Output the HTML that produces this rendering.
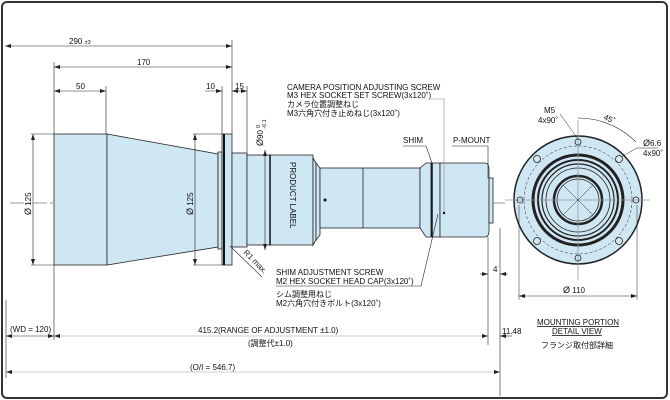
<!DOCTYPE html>
<html><head><meta charset="utf-8"><style>
html,body{margin:0;padding:0;background:#fff}
svg{display:block}
text{font-family:"Liberation Sans","Noto Sans CJK JP",sans-serif;font-size:8px;fill:#111}
</style></head><body>
<svg width="670" height="400" viewBox="0 0 670 400" xmlns="http://www.w3.org/2000/svg">
<defs>
<marker id="a" markerWidth="6" markerHeight="4" refX="6" refY="2" orient="auto-start-reverse" markerUnits="userSpaceOnUse"><path d="M0,0L6,2L0,4z" fill="#222"/></marker>
</defs>
<rect x="2" y="2" width="665" height="396" rx="5" fill="#fff" stroke="#333" stroke-width="2"/>
<line x1="10" y1="203" x2="505" y2="203" stroke="#999" stroke-width="1" stroke-dasharray="14,3,3,3"/>
<g fill="#cfe6f3" stroke="#222" stroke-width="0.8">
<rect x="54" y="134" width="53" height="131"/>
<path d="M107,134 L218,154 L218,247 L107,265 Z"/>
<rect x="218" y="152" width="4" height="97"/>
<rect x="222" y="134" width="10" height="131"/>
<rect x="232" y="153" width="15" height="94"/>
<rect x="247" y="155" width="23" height="90"/>
<rect x="270" y="155" width="43" height="90"/>
<path d="M313,158 L316,163 L316,240 L313,245 Z"/>
<path d="M316,163 L320,168 L320,235 L316,240 Z"/>
<rect x="320" y="168" width="100" height="60"/>
<path d="M420,168 L426,163 L431,163 L431,237 L426,237 L420,228 Z"/>
<rect x="431" y="163" width="9" height="74"/>
<path d="M440,163 L485,163 Q489,163 489,170 L489,230 Q489,237 485,237 L440,237 Z"/>
<rect x="489" y="178" width="4" height="45"/>
</g>
<line x1="224" y1="134" x2="224" y2="265" stroke="#111" stroke-width="2"/>
<line x1="270" y1="155" x2="270" y2="245" stroke="#111" stroke-width="1.5"/>
<line x1="363" y1="168" x2="363" y2="228" stroke="#222" stroke-width="0.8"/>
<line x1="432" y1="163" x2="432" y2="237" stroke="#111" stroke-width="1.5"/>
<circle cx="325" cy="200" r="1.5" fill="#111"/>
<circle cx="444" cy="213" r="1.2" fill="#111"/>
<text x="290" y="162" transform="rotate(90 290 162)" font-size="8.5">PRODUCT LABEL</text>
<g stroke="#222" stroke-width="0.6" fill="none">
<line x1="5" y1="46" x2="232" y2="46" marker-start="url(#a)" marker-end="url(#a)"/>
<line x1="54" y1="67" x2="232" y2="67" marker-start="url(#a)" marker-end="url(#a)"/>
<line x1="54" y1="91" x2="106" y2="91" marker-start="url(#a)" marker-end="url(#a)"/>
<line x1="205" y1="91" x2="222" y2="91" marker-end="url(#a)"/>
<line x1="232" y1="91" x2="247" y2="91" marker-start="url(#a)" marker-end="url(#a)"/>
<line x1="232" y1="40" x2="232" y2="134"/><line x1="54" y1="62" x2="54" y2="134"/>
<line x1="106" y1="86" x2="106" y2="134"/><line x1="222" y1="86" x2="222" y2="134"/>
<line x1="247" y1="86" x2="247" y2="153"/>
<line x1="33" y1="134" x2="33" y2="265" marker-start="url(#a)" marker-end="url(#a)"/>
<line x1="195" y1="134" x2="195" y2="265" marker-start="url(#a)" marker-end="url(#a)"/>
<line x1="193" y1="134" x2="222" y2="134"/><line x1="193" y1="265" x2="222" y2="265"/>
<line x1="31" y1="134" x2="54" y2="134"/><line x1="31" y1="265" x2="54" y2="265"/>
<line x1="265" y1="150" x2="265" y2="250" marker-start="url(#a)" marker-end="url(#a)"/>
<line x1="230" y1="246" x2="262" y2="277"/>
<path d="M276,286 L421,286 L438,214"/>
<path d="M430,99 L444,99 L444,212" stroke="#888"/>
<path d="M403,146 L426,146 L432,163"/>
<path d="M452,146 L488,146 L488,178"/>
<line x1="488" y1="237" x2="488" y2="345"/>
<line x1="500" y1="228" x2="500" y2="396"/>
<line x1="480" y1="274" x2="488" y2="274" marker-end="url(#a)"/>
<line x1="508" y1="274" x2="500" y2="274" marker-end="url(#a)"/>
<line x1="54" y1="265" x2="54" y2="340"/>
<line x1="6" y1="300" x2="6" y2="378"/>
<line x1="6" y1="336" x2="54" y2="336" marker-start="url(#a)" marker-end="url(#a)"/>
<line x1="54" y1="336" x2="488" y2="336" stroke="#999" marker-start="url(#a)" marker-end="url(#a)"/>
<line x1="512" y1="336" x2="500" y2="336" marker-end="url(#a)"/>
<line x1="6" y1="372" x2="500" y2="372" stroke="#999" marker-start="url(#a)" marker-end="url(#a)"/>
</g>
<text x="69" y="44">290 <tspan font-size="5.5">±3</tspan></text>
<text x="137" y="65">170</text>
<text x="76" y="89">50</text>
<text x="206" y="89">10</text>
<text x="235" y="89">15</text>
<text x="31" y="215" transform="rotate(-90 31 215)"><tspan font-size="9">Ø</tspan> 125</text>
<text x="193" y="215" transform="rotate(-90 193 215)"><tspan font-size="9">Ø</tspan> 125</text>
<text x="263" y="146" transform="rotate(-90 263 146)"><tspan font-size="9">Ø</tspan>90 <tspan font-size="5.5" dy="-3">0</tspan><tspan font-size="5.5" dx="-4" dy="6">-0.1</tspan></text>
<text x="243" y="253" transform="rotate(45 243 253)">R1 max.</text>
<text x="287" y="90">CAMERA POSITION ADJUSTING SCREW</text>
<text x="287" y="98">M3 HEX SOCKET SET SCREW(3x120˚)</text>
<text x="287" y="107">カメラ位置調整ねじ</text>
<text x="287" y="116">M3六角穴付き止めねじ(3x120˚)</text>
<text x="403" y="143">SHIM</text>
<text x="453" y="143">P-MOUNT</text>
<text x="276" y="275">SHIM ADJUSTMENT SCREW</text>
<text x="276" y="284">M2 HEX SOCKET HEAD CAP(3x120˚)</text>
<text x="276" y="297">シム調整用ねじ</text>
<text x="276" y="306">M2六角穴付きボルト(3x120˚)</text>
<text x="493" y="272">4</text>
<text x="10" y="332">(WD = 120)</text>
<text x="198" y="333">415.2(RANGE OF ADJUSTMENT ±1.0)</text>
<text x="248" y="346">(調整代±1.0)</text>
<text x="190" y="370">(O/I = 546.7)</text>
<text x="502" y="334">11.48</text>
<g stroke="#222" fill="none">
<circle cx="578" cy="200" r="64" fill="#cfe6f3" stroke-width="1.5"/>
<circle cx="578" cy="200" r="54" stroke-dasharray="3,2" stroke-width="0.5"/>
<circle cx="578" cy="200" r="45" stroke-width="3"/>
<circle cx="578" cy="200" r="40" stroke-width="2"/>
<circle cx="578" cy="200" r="36" stroke-width="1.2"/>
<circle cx="578" cy="200" r="32" stroke-width="0.8"/>
<circle cx="578" cy="200" r="24" stroke-width="2.5"/>
<circle cx="578" cy="200" r="21" stroke-width="0.8"/>
<line x1="505" y1="200" x2="650" y2="200" stroke="#999" stroke-width="0.8"/>
<line x1="578" y1="120" x2="578" y2="280" stroke="#999" stroke-width="0.8"/>
<line x1="563" y1="185" x2="593" y2="215" stroke-width="0.5"/>
<line x1="593" y1="185" x2="563" y2="215" stroke-width="0.5"/>
<g stroke-width="0.8">
<circle cx="578" cy="142" r="3"/><circle cx="578" cy="258" r="3"/>
<circle cx="520" cy="200" r="3"/><circle cx="636" cy="200" r="3"/>
<circle cx="537" cy="159" r="3.5"/><circle cx="619" cy="159" r="3.5"/>
<circle cx="537" cy="241" r="3.5"/><circle cx="619" cy="241" r="3.5"/>
</g>
<path d="M578,118 A82,82 0 0 1 636,142" stroke-width="0.6"/>
<path d="M560,114 L578,139" stroke-width="0.5"/>
<path d="M621,157 L637,148 L658,148" stroke-width="0.5"/>
<line x1="519" y1="205" x2="519" y2="300" stroke-width="0.5"/>
<line x1="637" y1="205" x2="637" y2="300" stroke-width="0.5"/>
<line x1="519" y1="296" x2="637" y2="296" stroke-width="0.6" marker-start="url(#a)" marker-end="url(#a)"/>
</g>
<text x="544" y="113">M5</text>
<text x="538" y="123">4x90˚</text>
<text x="603" y="119" transform="rotate(25 603 119)">45˚</text>
<text x="643" y="146"><tspan font-size="9">Ø</tspan>6.6</text>
<text x="643" y="156">4x90˚</text>
<text x="563" y="293"><tspan font-size="9">Ø</tspan> 110</text>
<text x="537" y="325" text-decoration="underline">MOUNTING PORTION</text>
<text x="552" y="334" text-decoration="underline">DETAIL VIEW</text>
<text x="541" y="348">フランジ取付部詳細</text>
</svg>
</body></html>
